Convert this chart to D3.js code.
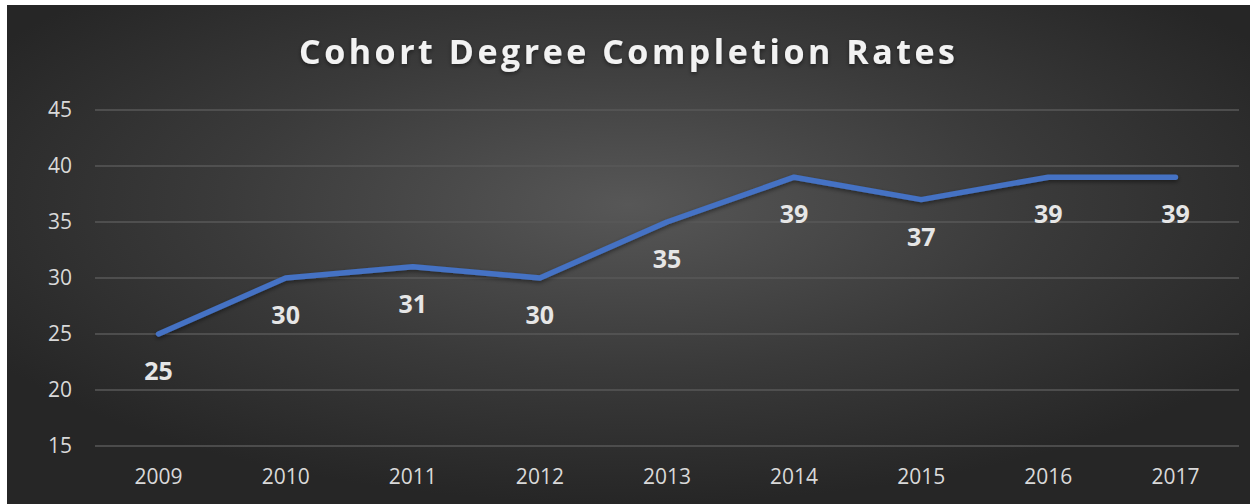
<!DOCTYPE html>
<html>
<head>
<meta charset="utf-8">
<script src="https://cdn.jsdelivr.net/npm/d3@7"></script>
<style>
  body { margin: 0; background: #fff; }
  svg { display: block; }
  text { font-family: "Open Sans", sans-serif; }
</style>
</head>
<body>
<div id="chart"></div>
<script>
// chart data
const years = ["2009", "2010", "2011", "2012", "2013", "2014", "2015", "2016", "2017"];
const rates = [25, 30, 31, 30, 35, 39, 37, 39, 39];
const yTicks = [15, 20, 25, 30, 35, 40, 45];
const title = "Cohort Degree Completion Rates";

const W = 1250, H = 504;
const margin = {top: 110, right: 11, bottom: 58, left: 95};
const width = W - margin.left - margin.right;
const height = H - margin.top - margin.bottom;

const svg = d3.select("#chart").append("svg")
    .attr("width", W)
    .attr("height", H);

// background gradient
const defs = svg.append("defs");
const grad = defs.append("radialGradient")
    .attr("id", "bg")
    .attr("cx", "50%").attr("cy", "40%")
    .attr("r", "60%");
grad.append("stop").attr("offset", "0%").attr("stop-color", "#575757");
grad.append("stop").attr("offset", "55%").attr("stop-color", "#3a3a3a");
grad.append("stop").attr("offset", "100%").attr("stop-color", "#262626");

const shadow = defs.append("filter").attr("id", "shadow")
    .attr("x", "-5%").attr("y", "-20%").attr("width", "110%").attr("height", "140%");
shadow.append("feDropShadow")
    .attr("dx", 0).attr("dy", 2).attr("stdDeviation", 2)
    .attr("flood-color", "#000").attr("flood-opacity", 0.45);

svg.append("rect")
    .attr("x", 7).attr("y", 5)
    .attr("width", W - 7).attr("height", H - 5)
    .attr("fill", "url(#bg)");

// title
svg.append("text")
    .attr("x", 627)
    .attr("y", 64)
    .attr("text-anchor", "middle")
    .attr("fill", "#f2f2f2")
    .attr("font-size", 34)
    .attr("font-weight", "bold")
    .attr("textLength", 656)
    .attr("lengthAdjust", "spacing")
    .attr("filter", "url(#shadow)")
    .text(title);

const g = svg.append("g")
    .attr("transform", "translate(" + margin.left + "," + margin.top + ")");

// scales
const x = d3.scaleBand()
    .domain(years)
    .range([0, width]);
const y = d3.scaleLinear()
    .domain([15, 45])
    .range([height, 0]);

// gridlines
g.append("g")
    .selectAll("line")
    .data(yTicks)
    .enter().append("line")
    .attr("x1", 0)
    .attr("x2", width)
    .attr("y1", d => y(d))
    .attr("y2", d => y(d))
    .attr("stroke", "#585858")
    .attr("stroke-width", 1.3);

// y axis
const yAxis = d3.axisLeft(y).tickValues(yTicks).tickSize(0).tickPadding(23);
g.append("g")
    .call(yAxis)
    .call(s => s.select(".domain").remove())
    .selectAll("text")
    .attr("fill", "#d9d9d9")
    .attr("font-size", 21)
    .style("font-family", "'Open Sans', sans-serif");

// x axis
const xAxis = d3.axisBottom(x).tickSize(0).tickPadding(23);
g.append("g")
    .attr("transform", "translate(0," + height + ")")
    .call(xAxis)
    .call(s => s.select(".domain").remove())
    .selectAll("text")
    .attr("fill", "#d9d9d9")
    .attr("font-size", 21)
    .style("font-family", "'Open Sans', sans-serif");

// line
const line = d3.line()
    .x((d, i) => x(years[i]) + x.bandwidth() / 2)
    .y(d => y(d));

g.append("path")
    .datum(rates)
    .attr("fill", "none")
    .attr("stroke", "#4472C4")
    .attr("stroke-width", 5.5)
    .attr("stroke-linecap", "round")
    .attr("stroke-linejoin", "round")
    .attr("filter", "url(#shadow)")
    .attr("d", line);

// data labels
g.selectAll(".label")
    .data(rates)
    .enter().append("text")
    .attr("class", "label")
    .attr("x", (d, i) => x(years[i]) + x.bandwidth() / 2)
    .attr("y", d => y(d) + 46)
    .attr("text-anchor", "middle")
    .attr("fill", "#e6e6e6")
    .attr("font-size", 25)
    .attr("font-weight", "bold")
    .text(d => d);
</script>
</body>
</html>
